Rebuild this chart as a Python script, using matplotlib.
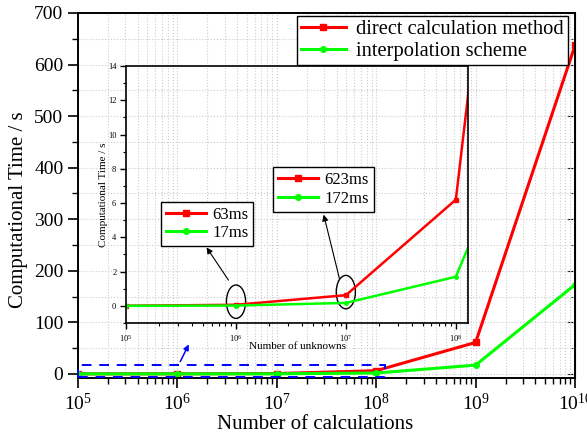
import numpy as np
import matplotlib
matplotlib.use('Agg')
import matplotlib.pyplot as plt
from matplotlib.ticker import LogLocator, MultipleLocator, NullFormatter
from matplotlib.patches import Ellipse, Rectangle

plt.rcParams['font.family'] = 'Liberation Serif'
plt.rcParams['mathtext.fontset'] = 'custom'
plt.rcParams['mathtext.rm'] = 'Liberation Serif'
plt.rcParams['mathtext.it'] = 'Liberation Serif:italic'

# Timing results (seconds)
n_calc = [1e5, 1e6, 1e7, 1e8, 1e9, 1e10]
t_direct = [0.0063, 0.063, 0.623, 6.2, 61, 637]
t_interp = [0.0017, 0.017, 0.172, 1.7, 17, 173]

main_yticks = [0, 100, 200, 300, 400, 500, 600, 700]
inset_yticks = [0, 2, 4, 6, 8, 10, 12, 14]
labels = ['direct calculation method', 'interpolation scheme']
zoom_labels = [('63ms', '17ms'), ('623ms', '172ms')]

red = '#ff0000'
green = '#00ff00'

fig = plt.figure(figsize=(5.87, 4.36), dpi=100)
ax = fig.add_axes([0.1329, 0.133, 0.8467, 0.8372])

ax.plot(n_calc, t_direct, color=red, lw=2.2, marker='s', ms=4, label=labels[0])
ax.plot(n_calc, t_interp, color=green, lw=2.2, marker='o', ms=4, label=labels[1])
ax.set_xscale('log')
ax.set_xlim(1e5, 1e10)
ax.set_ylim(-8, 700)
ax.set_yticks(main_yticks)
ax.yaxis.set_minor_locator(MultipleLocator(50))
ax.xaxis.set_major_locator(LogLocator(base=10, numticks=10))
ax.xaxis.set_minor_locator(LogLocator(base=10, subs=np.arange(2, 10), numticks=20))
ax.xaxis.set_minor_formatter(NullFormatter())
ax.grid(True, which='both', color='#cccccc', ls=':', lw=0.8)
ax.set_axisbelow(True)
ax.tick_params(which='major', direction='out', length=7, width=1.2, labelsize=14)
ax.tick_params(which='minor', direction='out', length=4, width=1)
for s in ax.spines.values():
    s.set_linewidth(1.4)
ax.set_xlabel('Number of calculations', fontsize=15, labelpad=1)
ax.set_ylabel('Computational Time / s', fontsize=15, labelpad=4)
ax.xaxis.label.set_x(0.477)
ax.yaxis.label.set_y(0.46)

# inward ticks on the right side
sec = ax.secondary_yaxis('right')
sec.set_yticks(main_yticks)
sec.yaxis.set_minor_locator(MultipleLocator(50))
sec.tick_params(which='major', direction='in', length=6, labelright=False)
sec.tick_params(which='minor', direction='in', length=3)

ax.legend(loc='upper right', bbox_to_anchor=(0.986, 0.992), borderaxespad=0,
          fontsize=14.8, fancybox=False, edgecolor='black', framealpha=1,
          handlelength=2.2, handletextpad=0.5, borderpad=0.2, labelspacing=0.1)

# dashed frame marking the zoomed region
ax.add_patch(Rectangle((1e5, -7), 1.23e8 - 1e5, 24, fill=False, ec='blue',
                       ls=(0, (5, 4)), lw=1.4, clip_on=False, zorder=3))
ax.annotate('', xy=(10**6.127, 62), xytext=(10**6.016, 19),
            arrowprops=dict(arrowstyle='-|>', color='blue', lw=1.1, mutation_scale=8))

# inset: zoom on the small problem sizes
axin = fig.add_axes([0.2147, 0.2592, 0.5826, 0.5894])
axin.patch.set_alpha(0)
axin.plot(n_calc, t_direct, color=red, lw=1.8, marker='s', ms=2.5)
axin.plot(n_calc, t_interp, color=green, lw=1.8, marker='o', ms=2.5)
axin.set_xscale('log')
axin.set_xlim(1e5, 1.29e8)
axin.set_ylim(-1, 14)
axin.set_yticks(inset_yticks)
axin.yaxis.set_minor_locator(MultipleLocator(1))
axin.xaxis.set_major_locator(LogLocator(base=10, numticks=10))
axin.xaxis.set_minor_locator(LogLocator(base=10, subs=np.arange(2, 10), numticks=20))
axin.xaxis.set_minor_formatter(NullFormatter())
axin.tick_params(which='major', direction='out', length=4, width=1, labelsize=6, pad=3)
axin.tick_params(which='minor', direction='out', length=2.5, width=0.8)
for s in axin.spines.values():
    s.set_linewidth(1.2)
axin.set_xlabel('Number of unknowns', fontsize=8, labelpad=-1)
axin.set_ylabel('Computational Time / s', fontsize=8, labelpad=0)

# ellipses around the points quoted in the small legends
for xc, idx in ((0.3216, 1), (0.6427, 2)):
    yc = (t_direct[idx] + 1) / 15 + 0.012
    axin.add_patch(Ellipse((xc, yc), 0.056, 0.13, transform=axin.transAxes,
                           fill=False, ec='black', lw=1))

axin.annotate('', xy=(0.231, 0.303), xytext=(0.304, 0.158), xycoords='axes fraction',
              arrowprops=dict(arrowstyle='-|>', color='black', lw=0.8, mutation_scale=9))
axin.annotate('', xy=(0.576, 0.432), xytext=(0.626, 0.162), xycoords='axes fraction',
              arrowprops=dict(arrowstyle='-|>', color='black', lw=0.8, mutation_scale=9))

h_red = plt.Line2D([], [], color=red, lw=2.2, marker='s', ms=4)
h_green = plt.Line2D([], [], color=green, lw=2.2, marker='o', ms=4)
leg_kw = dict(loc='upper left', borderaxespad=0, fontsize=12, fancybox=False,
              edgecolor='black', framealpha=1, handlelength=2.4, handletextpad=0.4,
              borderpad=0.3, labelspacing=0.15)
leg1 = axin.legend([h_red, h_green], zoom_labels[0], bbox_to_anchor=(0.101, 0.472), **leg_kw)
axin.add_artist(leg1)
axin.legend([h_red, h_green], zoom_labels[1], bbox_to_anchor=(0.43, 0.607), **leg_kw)

fig.savefig('out.png', dpi=100)
